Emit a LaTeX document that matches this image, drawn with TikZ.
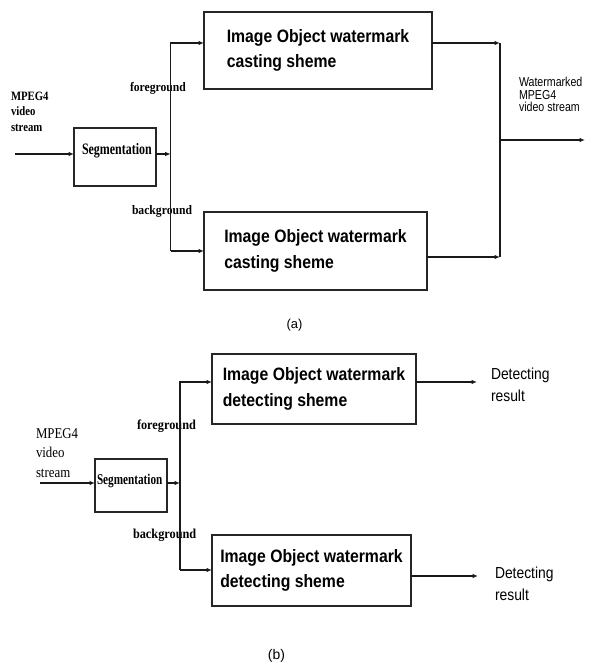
\documentclass[tikz,border=0pt]{standalone}
\usepackage{fontspec}
\usetikzlibrary{arrows.meta}
\newfontfamily\serA[FakeStretch=0.84]{Liberation Serif}
\newfontfamily\serB[FakeStretch=0.75]{Liberation Serif}
\newfontfamily\serC[FakeStretch=0.9]{Liberation Serif}
\newfontfamily\serD[FakeStretch=0.86]{Liberation Serif}
\newfontfamily\boxfont[FakeStretch=0.88]{Liberation Sans}
\newfontfamily\narrowsans[FakeStretch=0.82]{Liberation Sans}
\newfontfamily\detfont[FakeStretch=0.87]{Liberation Sans}
\newfontfamily\capfont{Liberation Sans}
\tikzset{
  pbox/.style={draw=black!85, line width=1.6bp, inner sep=0pt, outer sep=0pt, align=left,
    font=\boxfont\bfseries\fontsize{18}{25.5}\selectfont},
  segbox/.style={draw=black!85, line width=1.2bp, inner sep=0pt, outer sep=0pt},
  conn/.style={draw=black!90, line width=1.1bp},
  arr/.style={conn, -{Latex[length=5.5bp,width=4.5bp]}},
  lbl/.style={inner sep=0pt, outer sep=0pt},
}
\begin{document}
\begin{tikzpicture}[x=1bp,y=-1bp]
\useasboundingbox (0,0) rectangle (593,666);

% ---------- (a) ----------
\node[pbox, minimum width=228bp, minimum height=77bp] (cast1) at (318,50.5)
  {Image Object watermark\\casting sheme};
\node[pbox, minimum width=223bp, minimum height=78bp] (cast2) at (315.5,251)
  {Image Object watermark\\casting sheme};
\node[segbox, minimum width=82bp, minimum height=58bp] (seg1) at (115,157) {};
\node[lbl, anchor=base west, font=\serB\bfseries\fontsize{16}{16}\selectfont] (seg1t) at (82,154) {Segmentation};

\node[lbl, anchor=west, align=left, font=\serA\bfseries\fontsize{12.8}{15.5}\selectfont] (src1) at (11,111.4) {MPEG4\\video\\stream};
\node[lbl, anchor=base west, font=\serC\bfseries\fontsize{13}{13}\selectfont] (fg1) at (130,92) {foreground};
\node[lbl, anchor=base west, font=\serC\bfseries\fontsize{13}{13}\selectfont] (bg1) at (132,214) {background};
\node[lbl, anchor=north west, align=left, font=\narrowsans\fontsize{13}{12.5}\selectfont] (out1) at (519,77.3) {Watermarked\\MPEG4\\video stream};

\coordinate (in1) at (15,154);
\coordinate (j1) at (170.7,154);
\coordinate (t1) at (170.7,43);
\coordinate (b1) at (170.7,251);
\coordinate (r1) at (500,43);
\coordinate (r2) at (500,257);
\coordinate (o1) at (500,140);
\coordinate (oe) at (585,140);

\draw[arr] (in1) -- (in1 -| seg1.west);
\draw[arr] (in1 -| seg1.east) -- (j1);
\draw[arr] (b1) -- (t1) -- (t1 -| cast1.west);
\draw[arr] (b1) -- (b1 -| cast2.west);
\draw[arr] (r1 -| cast1.east) -- (r1);
\draw[arr] (r2 -| cast2.east) -- (r2);
\draw[conn] (r1) -- (r2);
\draw[arr] (o1) -- (oe);

\node[lbl, font=\capfont\fontsize{13}{13}\selectfont] (capa) at (294.5,325.5) {(a)};

% ---------- (b) ----------
\node[pbox, minimum width=204bp, minimum height=70bp] (det1) at (314,389)
  {Image Object watermark\\detecting sheme};
\node[pbox, minimum width=199bp, minimum height=71bp] (det2) at (311.5,570.5)
  {Image Object watermark\\detecting sheme};
\node[segbox, minimum width=72bp, minimum height=53bp] (seg2) at (131,485.5) {};
\node[lbl, anchor=base west, font=\serB\bfseries\fontsize{15}{15}\selectfont] (seg2t) at (97,484) {Segmentation};

\node[lbl, anchor=west, align=left, font=\serD\fontsize{15}{19.5}\selectfont] (src2) at (36,453) {MPEG4\\video\\stream};
\node[lbl, anchor=base west, font=\serC\bfseries\fontsize{13.7}{13.7}\selectfont] (fg2) at (137,429) {foreground};
\node[lbl, anchor=base west, font=\serC\bfseries\fontsize{13.7}{13.7}\selectfont] (bg2) at (133,538) {background};
\node[lbl, anchor=north west, align=left, font=\detfont\fontsize{16}{21.7}\selectfont] (res1) at (491,368.3) {Detecting\\result};
\node[lbl, anchor=north west, align=left, font=\detfont\fontsize{16}{21.7}\selectfont] (res2) at (495,567.3) {Detecting\\result};

\coordinate (in2) at (40,483);
\coordinate (j2) at (180,483);
\coordinate (t2) at (180,382);
\coordinate (b2) at (180,570);
\coordinate (e1) at (477,382);
\coordinate (e2) at (478,576);

\draw[arr] (in2) -- (in2 -| seg2.west);
\draw[arr] (in2 -| seg2.east) -- (j2);
\draw[arr] (b2) -- (t2) -- (t2 -| det1.west);
\draw[arr] (b2) -- (b2 -| det2.west);
\draw[arr] (e1 -| det1.east) -- (e1);
\draw[arr] (e2 -| det2.east) -- (e2);

\node[lbl, font=\capfont\fontsize{14}{14}\selectfont] (capb) at (276.5,655.5) {(b)};
\end{tikzpicture}
\end{document}
